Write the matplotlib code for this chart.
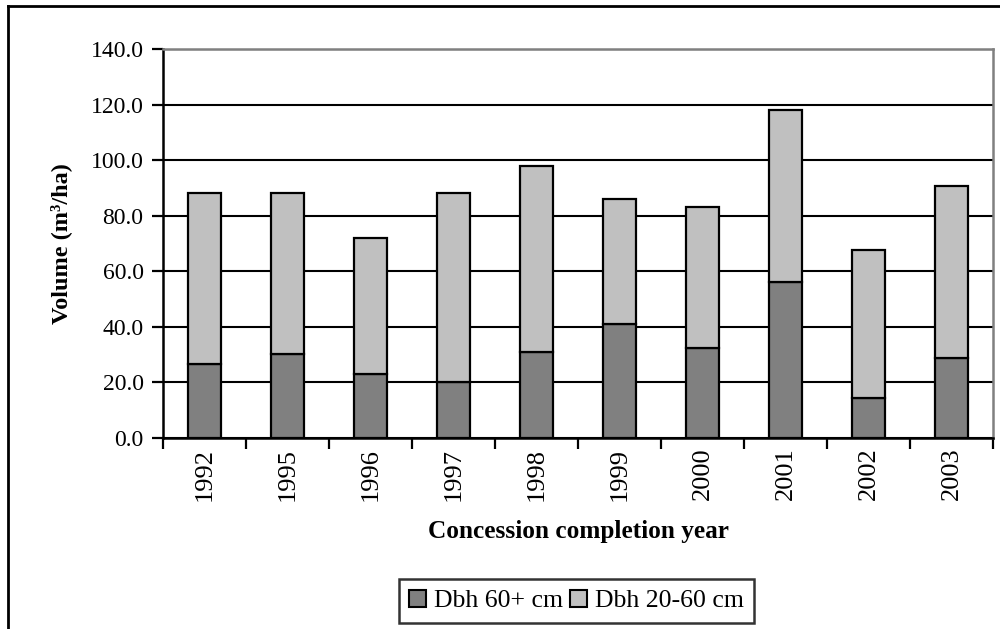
import matplotlib
matplotlib.use("Agg")
import matplotlib.pyplot as plt
from matplotlib.patches import Patch
from matplotlib.lines import Line2D

years = ["1992", "1995", "1996", "1997", "1998", "1999", "2000", "2001", "2002", "2003"]
dbh_60_plus = [26.6, 30.3, 23.1, 20.1, 31.0, 41.1, 32.5, 56.1, 14.5, 28.8]
totals = [88.0, 88.0, 72.0, 88.0, 98.0, 86.0, 83.0, 118.2, 67.8, 90.8]
dbh_20_60 = [t - d for t, d in zip(totals, dbh_60_plus)]
y_ticks = [0, 20, 40, 60, 80, 100, 120, 140]

plt.rcParams["font.family"] = ["Liberation Serif", "DejaVu Serif"]

fig = plt.figure(figsize=(10, 6.29), dpi=100)
ax = fig.add_axes([0.163, 1 - 438 / 629, 0.830, (438 - 49) / 629])

x = list(range(len(years)))
dark = "#808080"
light = "#c0c0c0"
ax.bar(x, dbh_60_plus, width=0.4, color=dark, edgecolor="black", linewidth=1.6, zorder=3)
ax.bar(x, dbh_20_60, width=0.4, bottom=dbh_60_plus, color=light, edgecolor="black",
       linewidth=1.6, zorder=3)

ax.set_xlim(-0.5, len(years) - 0.5)
ax.set_ylim(0, 140)
ax.set_yticks(y_ticks)
ax.set_yticklabels([f"{v:.1f}" for v in y_ticks], fontsize=17)
ax.yaxis.grid(True, color="black", linewidth=1.5)
ax.set_axisbelow(True)

ax.set_xticks(x)
ax.set_xticklabels(years, rotation=90, fontsize=19)
ax.tick_params(axis="x", which="major", length=0, pad=7)
ax.set_xticks([i - 0.5 for i in range(len(years) + 1)], minor=True)
ax.tick_params(axis="x", which="minor", length=8, width=1.6, direction="out")
ax.tick_params(axis="y", length=8, width=1.6, direction="out", pad=6)

for side in ("left", "bottom"):
    ax.spines[side].set_color("black")
    ax.spines[side].set_linewidth(1.8)
for side in ("top", "right"):
    ax.spines[side].set_color("#808080")
    ax.spines[side].set_linewidth(1.8)

ax.set_ylabel("Volume (m³/ha)", fontsize=17.5, fontweight="bold", labelpad=13)
ax.set_xlabel("Concession completion year", fontsize=18.2, fontweight="bold", labelpad=14)

handles = [Patch(facecolor=dark, edgecolor="black", linewidth=1.5),
           Patch(facecolor=light, edgecolor="black", linewidth=1.5)]
leg = fig.legend(handles, ["Dbh 60+ cm", "Dbh 20-60 cm"], loc="center",
                 bbox_to_anchor=(0.5765, 1 - 601 / 629), ncol=2, fontsize=18.5,
                 frameon=True, fancybox=False, handlelength=0.65, handleheight=0.65,
                 handletextpad=0.3, columnspacing=0.3, borderpad=0.4)
leg.get_frame().set_edgecolor("black")
leg.get_frame().set_linewidth(1.8)

# outer chart frame (top and left edges)
fig.add_artist(Line2D([8 / 1000, 1.0], [1 - 6 / 629, 1 - 6 / 629], color="black",
                      linewidth=2, transform=fig.transFigure))
fig.add_artist(Line2D([8 / 1000, 8 / 1000], [0, 1 - 6 / 629], color="black",
                      linewidth=2, transform=fig.transFigure))

fig.savefig("out.png", dpi=100)
